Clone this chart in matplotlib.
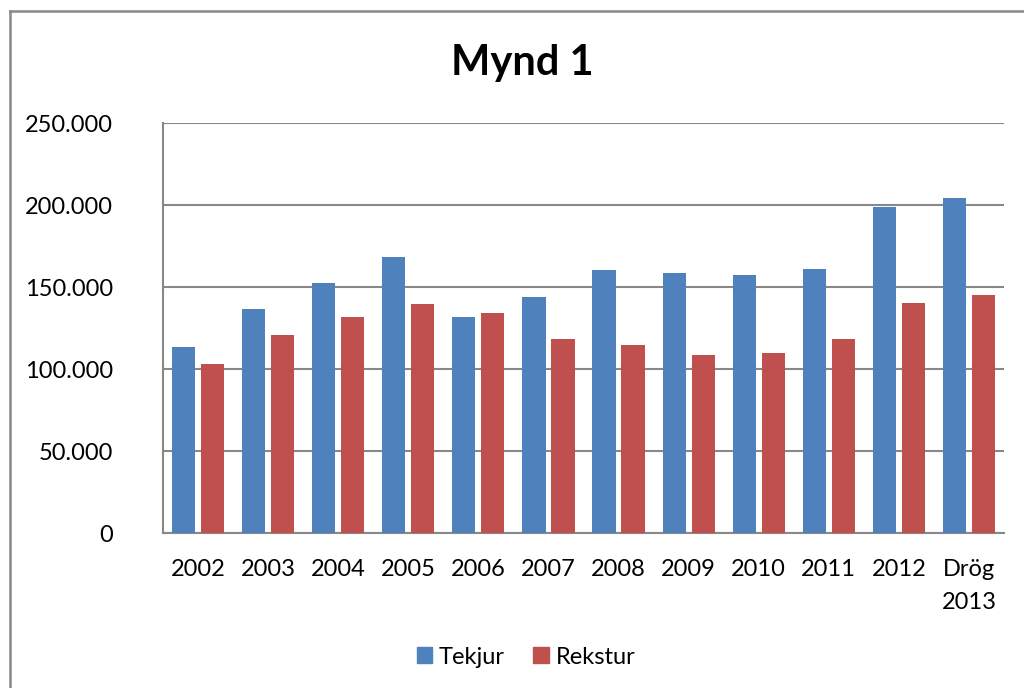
import numpy as np
import matplotlib.pyplot as plt
from matplotlib.lines import Line2D
from matplotlib.patches import Patch
from matplotlib.ticker import FuncFormatter

plt.rcParams['font.family'] = ['Lato', 'DejaVu Sans']

years = ['2002', '2003', '2004', '2005', '2006', '2007', '2008', '2009',
         '2010', '2011', '2012', 'Drög\n2013']
tekjur = [113400, 136600, 152600, 168500, 132000, 143900, 160100, 158500,
          157300, 160700, 199000, 204300]
rekstur = [103200, 120700, 131700, 139600, 134300, 118300, 114800, 108700,
           109800, 118000, 140000, 145300]

blue = '#4F81BD'
red = '#C0504D'
gray = '#888888'

W, H = 1024, 688
fig = plt.figure(figsize=(W / 100, H / 100), dpi=100)
ax = fig.add_axes([163 / W, (H - 533) / H, (1004 - 163) / W, (533 - 123) / H])

x = np.arange(len(years))
ax.bar(x - 0.207, tekjur, width=0.33, color=blue, zorder=3)
ax.bar(x + 0.207, rekstur, width=0.33, color=red, zorder=3)

ax.set_xlim(-0.5, len(years) - 0.5)
ax.set_ylim(0, 250000)
ax.set_yticks(np.arange(0, 250001, 50000))
ax.yaxis.set_major_formatter(FuncFormatter(lambda v, p: f"{int(v):,}".replace(",", ".")))
ax.set_xticks(x)
ax.set_xticklabels(years, linespacing=1.7, va='top')

ax.grid(axis='y', color=gray, linewidth=1.5, zorder=0)
for s in ['top', 'right']:
    ax.spines[s].set_visible(False)
for s in ['left', 'bottom']:
    ax.spines[s].set_color(gray)
    ax.spines[s].set_linewidth(1.5)
ax.tick_params(axis='both', length=0, labelsize=17)
ax.tick_params(axis='y', pad=36)
ax.tick_params(axis='x', pad=18.5)

# outer chart border (runs off right and bottom edges)
top = 1 - 11 / H
left = 9.5 / W
fig.add_artist(Line2D([left, left], [-0.1, top], color=gray, lw=1.8))
fig.add_artist(Line2D([left, 1.1], [top, top], color=gray, lw=1.8))

fig.text(522 / W, 1 - 63 / H, 'Mynd 1', ha='center', va='center',
         fontsize=30, fontweight='bold')

handles = [Patch(color=blue, label='Tekjur'), Patch(color=red, label='Rekstur')]
fig.legend(handles=handles, loc='center', bbox_to_anchor=(526 / W, 1 - 657 / H),
           ncol=2, frameon=False, fontsize=17, handlelength=0.65,
           handleheight=0.65, handletextpad=0.3, columnspacing=1.2)

fig.savefig('out.png', dpi=100)
